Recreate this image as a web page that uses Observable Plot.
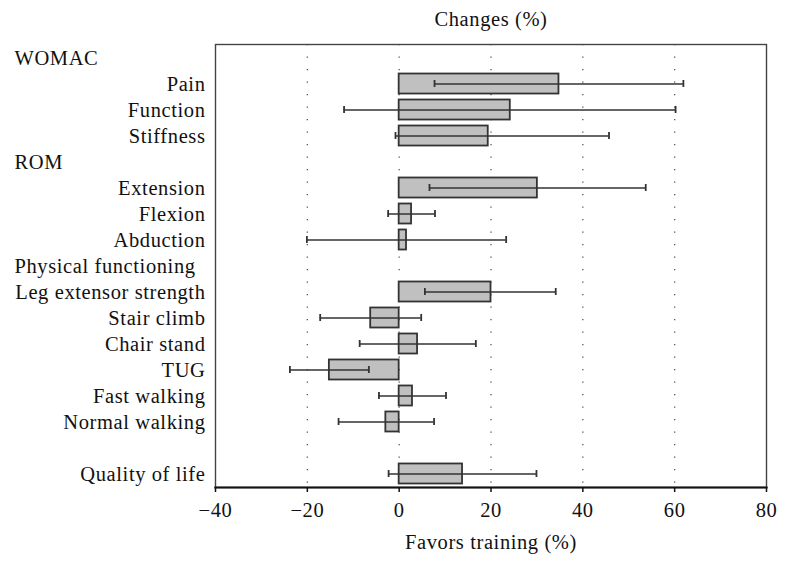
<!DOCTYPE html>
<html>
<head>
<meta charset="utf-8">
<script src="https://cdn.jsdelivr.net/npm/d3@7"></script>
<script src="https://cdn.jsdelivr.net/npm/@observablehq/plot@0.6"></script>
<style>
  html, body { margin: 0; padding: 0; background: #fff; overflow: hidden; }
  #chart svg { display: block; }
</style>
</head>
<body>
<div id="chart"></div>
<script>
// Row order (top to bottom); " " is the blank spacer row
const rows = ["WOMAC", "Pain", "Function", "Stiffness", "ROM", "Extension", "Flexion", "Abduction",
  "Physical functioning", "Leg extensor strength", "Stair climb", "Chair stand", "TUG",
  "Fast walking", "Normal walking", " ", "Quality of life"];
const headers = ["WOMAC", "ROM", "Physical functioning"];

// Outcomes with mean change (%) and interval bounds
const items = ["Pain", "Function", "Stiffness", "Extension", "Flexion", "Abduction",
  "Leg extensor strength", "Stair climb", "Chair stand", "TUG", "Fast walking",
  "Normal walking", "Quality of life"];
const means = [34.8, 24.2, 19.4, 30.1, 2.7, 1.6, 20.0, -6.2, 4.0, -15.2, 2.9, -2.9, 13.8];
const lower = [7.7, -12.0, -0.8, 6.6, -2.4, -20.1, 5.6, -17.2, -8.6, -23.8, -4.4, -13.2, -2.3];
const upper = [61.9, 60.2, 45.7, 53.7, 7.8, 23.3, 34.1, 4.8, 16.7, -6.6, 10.2, 7.6, 29.9];

const xTicks = [-40, -20, 0, 20, 40, 60, 80];
const gridLines = [-20, 0, 20, 40, 60];
const title = "Changes (%)";
const xLabel = "Favors training (%)";

const data = items.map((label, i) => ({label, mean: means[i], lo: lower[i], hi: upper[i]}));
const itemLabels = rows.filter(r => !headers.includes(r) && r.trim() !== "");

const font = "'Liberation Serif', 'DejaVu Serif', serif";

const chart = Plot.plot({
  width: 790,
  height: 568,
  marginLeft: 215,
  marginRight: 24,
  marginTop: 44,
  marginBottom: 81,
  style: {fontFamily: font, fontSize: "20.5px", letterSpacing: "0.6px", color: "#111", background: "#fff"},
  x: {domain: [-40, 80]},
  y: {type: "band", domain: rows, paddingInner: 0.23, paddingOuter: 0.135, round: false, axis: null},
  marks: [
    Plot.ruleX(gridLines, {stroke: "#555", strokeWidth: 1.3, strokeDasharray: "1.3 11.2"}),
    Plot.barX(data, {x1: 0, x2: "mean", y: "label", fill: "#c0c0c0", stroke: "#333", strokeWidth: 1.8}),
    Plot.ruleY(data, {x1: "lo", x2: "hi", y: "label", stroke: "#333", strokeWidth: 1.6}),
    Plot.tickX(data, {x: "lo", y: "label", stroke: "#333", strokeWidth: 1.8, insetTop: 6.5, insetBottom: 6.5}),
    Plot.tickX(data, {x: "hi", y: "label", stroke: "#333", strokeWidth: 1.8, insetTop: 6.5, insetBottom: 6.5}),
    Plot.frame({stroke: "#444", strokeWidth: 1.4}),
    Plot.frame({anchor: "bottom", stroke: "#111", strokeWidth: 2.2}),
    Plot.axisX({ticks: xTicks, tickSize: 5, tickPadding: 10, tickFormat: d => d < 0 ? "\u2212" + Math.abs(d) : String(d), label: null, stroke: "#111", strokeWidth: 1.5, fill: "#111"}),
    Plot.text(itemLabels, {y: d => d, text: d => d, frameAnchor: "left", dx: -10, textAnchor: "end", fill: "#111"}),
    Plot.text(headers, {y: d => d, text: d => d, frameAnchor: "left", dx: -201, textAnchor: "start", fill: "#111"}),
    Plot.text([title], {text: d => d, frameAnchor: "top", dy: -25, lineAnchor: "middle", fill: "#111"}),
    Plot.text([xLabel], {text: d => d, frameAnchor: "bottom", dy: 55, lineAnchor: "middle", fill: "#111"})
  ]
});
document.getElementById("chart").appendChild(chart);
</script>
</body>
</html>
